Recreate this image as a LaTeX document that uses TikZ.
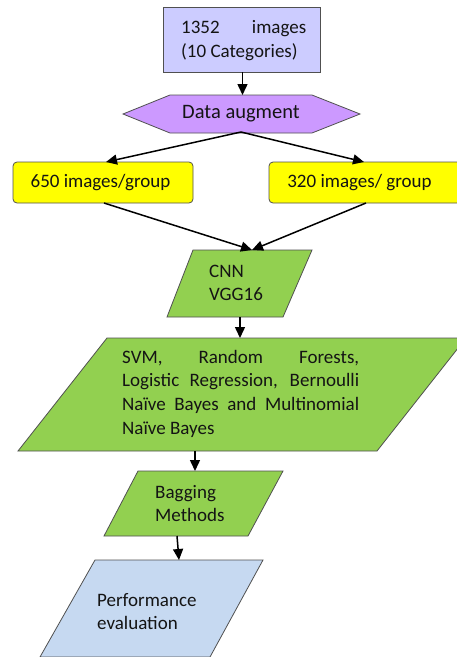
\documentclass[tikz,border=0pt]{standalone}
\usepackage{fontspec}
\setmainfont{Carlito}
\usetikzlibrary{arrows.meta}
\definecolor{lav}{HTML}{CCCCFF}
\definecolor{vio}{HTML}{CC99FF}
\definecolor{yel}{HTML}{FFFF00}
\definecolor{grn}{HTML}{92D050}
\definecolor{lblue}{HTML}{C6D9F1}
\definecolor{edgec}{HTML}{505050}
\definecolor{txtc}{HTML}{141414}
\begin{document}
\begin{tikzpicture}[x=1pt,y=-1pt,
 shapeline/.style={draw=edgec,line width=0.8pt},
 arr/.style={draw=black,line width=1.5pt,-{Triangle[length=11pt,width=10pt]}},
 txt/.style={font=\fontsize{19}{23.7}\selectfont,inner sep=0pt,text=txtc,align=left},
]
\useasboundingbox (0,0) rectangle (457,657);
\clip (0,0) rectangle (457,657);
% box 1
\path[shapeline,fill=lav] (163,7) rectangle (320,72);
\node[txt,anchor=west] (t1) at (181,40.5) {\makebox[125pt][s]{1352 images}\\(10 Categories)};
% hexagon
\path[shapeline,fill=vio] (123,114) -- (170,95) -- (312,95) -- (360,114) -- (312,133) -- (170,133) -- cycle;
\node[txt,font=\fontsize{20.5}{24}\selectfont] (t2) at (241,114) {Data augment};
% yellow boxes
\path[shapeline,fill=yel,rounded corners=4pt] (13,162) rectangle (193,203);
\path[shapeline,fill=yel,rounded corners=4pt] (269,162) rectangle (470,203);
\node[txt] (t3) at (100.5,183) {650 images/group};
\node[txt] (t4) at (359.5,183) {320 images/ group};
% CNN
\path[shapeline,fill=grn] (193,250) -- (312,250) -- (283,317) -- (167,317) -- cycle;
\node[txt,anchor=west] (t5) at (209,283) {CNN\\VGG16};
% big classifier box
\path[shapeline,fill=grn] (107,338) -- (466,338) -- (377,451) -- (18,451) -- cycle;
\node[txt,anchor=west] (t6) at (122,393.5) {\makebox[237pt][s]{SVM, Random Forests,}\\\makebox[237pt][s]{Logistic Regression, Bernoulli}\\\makebox[237pt][s]{Naïve Bayes and Multinomial}\\Naïve Bayes};
% bagging
\path[shapeline,fill=grn] (138,471) -- (283,471) -- (248,536) -- (104,536) -- cycle;
\node[txt,anchor=west] (t7) at (155,503.5) {Bagging\\Methods};
% performance
\path[shapeline,fill=lblue] (95,560) -- (263,560) -- (210,657) -- (40,657) -- cycle;
\node[txt,anchor=west] (t8) at (97,611.5) {Performance\\evaluation};
% connector coordinates
\coordinate (b1s) at (242.5,72);
\coordinate (hxn) at (242.5,95);
\coordinate (hxs) at (241,132);
\coordinate (y1n) at (106,162);
\coordinate (y2n) at (364,162);
\coordinate (y1s) at (104,203);
\coordinate (y2s) at (366,203);
\coordinate (cnnn) at (252,250);
\coordinate (cnns) at (240,317);
\coordinate (bign) at (240,338);
\coordinate (bigs) at (195,451);
\coordinate (bagn) at (195,471);
\coordinate (bags) at (177,536);
\coordinate (perfn) at (179,560);
\draw[arr] (b1s) -- (hxn);
\draw[arr] (hxs) -- (y1n);
\draw[arr] (hxs) -- (y2n);
\draw[arr] (y1s) -- (cnnn);
\draw[arr] (y2s) -- (cnnn);
\draw[arr] (cnns) -- (bign);
\draw[arr] (bigs) -- (bagn);
\draw[arr] (bags) -- (perfn);
\end{tikzpicture}
\end{document}
